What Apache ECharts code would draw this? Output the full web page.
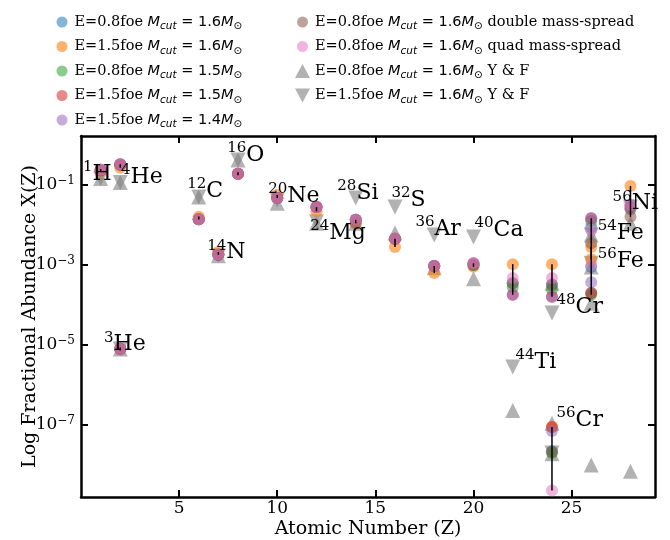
<!DOCTYPE html>
<html>
<head>
<meta charset="utf-8">
<script src="https://cdn.jsdelivr.net/npm/echarts@6/dist/echarts.min.js"></script>
<style>
  html, body { margin: 0; padding: 0; background: #fff; }
  #chart { width: 670px; height: 540px; }
</style>
</head>
<body>
<div id="chart"></div>
<script>
// Isotopes shown on the plot, with their atomic number
const isotopes     = ['1H', '3He', '4He', '12C', '14N', '16O', '20Ne', '24Mg', '28Si', '32S', '36Ar', '40Ca', '44Ti', '48Cr', '56Cr', '54Fe', '56Fe', '56Ni'];
const atomicNumber = [1, 2, 2, 6, 7, 8, 10, 12, 14, 16, 18, 20, 22, 24, 24, 26, 26, 28];

// Model yields (mass fraction), one value per isotope
const e08m16     = [0.23, 7.9e-6, 0.32, 0.014, 1.8e-3, 0.19, 0.047, 0.028, 0.0135, 4.5e-3, 9.4e-4, 1.0e-3, 3.5e-4, 3.2e-4, 2.2e-8, 8.9e-3, 8.9e-4, 0.032];
const e15m16     = [0.22, 7.9e-6, 0.27, 0.016, 2.1e-3, 0.19, 0.056, 0.022, 0.011, 2.8e-3, 6.3e-4, 9.0e-4, 1.05e-3, 1.05e-3, 8.9e-8, 1.4e-3, 2.8e-3, 0.095];
const e08m15     = [0.24, 7.9e-6, 0.32, 0.014, 1.8e-3, 0.19, 0.047, 0.028, 0.0135, 4.5e-3, 9.4e-4, 1.0e-3, 2.8e-4, 2.4e-4, 2.0e-8, 0.0126, 1.8e-4, 0.025];
const e15m15     = [0.24, 7.9e-6, 0.33, 0.014, 1.8e-3, 0.19, 0.047, 0.028, 0.0135, 4.5e-3, 9.4e-4, 1.1e-3, 1.8e-4, 1.6e-4, 8.9e-8, 0.0148, 2.0e-4, 0.028];
const e15m14     = [0.24, 7.9e-6, 0.33, 0.014, 1.8e-3, 0.19, 0.047, 0.028, 0.0135, 4.5e-3, 9.4e-4, 1.1e-3, 1.8e-4, 1.6e-4, 7.1e-8, 0.0148, 3.7e-4, 0.025];
const e08Double  = [0.23, 7.9e-6, 0.32, 0.014, 1.8e-3, 0.19, 0.047, 0.028, 0.011, 4.5e-3, 9.4e-4, 1.0e-3, 3.5e-4, 3.2e-4, 2.1e-8, 3.5e-3, 2.0e-4, 0.016];
const e08Quad    = [0.24, 7.9e-6, 0.33, 0.014, 1.8e-3, 0.19, 0.047, 0.028, 0.0135, 4.5e-3, 9.4e-4, 1.1e-3, 4.7e-4, 4.7e-4, 2.3e-9, 7.6e-3, 1.0e-3, 0.032];

// Y & F comparison yields, one value per isotope
const yfE08 = [0.145, 8e-6, 0.115, 0.05, 1.7e-3, 0.42, 0.035, 0.011, 0.011, 6.3e-3, 8.5e-4, 4.5e-4, 2.3e-7, 3.5e-4, 1.1e-7, 5.6e-3, 8.9e-4, 0.011];
const yfE15 = [0.145, 8e-6, 0.115, 0.05, 1.7e-3, 0.42, 0.042, 0.012, 0.047, 0.028, 5.6e-3, 5.0e-3, 2.8e-6, 6.3e-5, 2.0e-8, 5.6e-3, 1.1e-3, 0.028];
// further Y & F (E=0.8foe) points without a model counterpart
const yfE08ExtraZ     = [24, 26, 26, 28];
const yfE08ExtraValue = [1.9e-8, 1.1e-4, 1.0e-8, 7e-9];

// Isotope annotations: mass number, element, anchor (Z, abundance)
const labelMass    = ['1', '4', '3', '12', '14', '16', '20', '24', '28', '32', '36', '40', '44', '48', '56', '54', '56', '56'];
const labelElement = ['H', 'He', 'He', 'C', 'N', 'O', 'Ne', 'Mg', 'Si', 'S', 'Ar', 'Ca', 'Ti', 'Cr', 'Cr', 'Fe', 'Fe', 'Ni'];
const labelZ       = [0.1, 2.04, 1.17, 5.41, 6.43, 7.45, 9.54, 11.68, 13.06, 15.82, 17.04, 20.05, 22.14, 24.23, 24.23, 26.33, 26.33, 27.09];
const labelValue   = [0.19, 0.158, 1.05e-5, 0.071, 2.1e-3, 0.56, 0.053, 6.3e-3, 0.063, 0.042, 7.9e-3, 7.5e-3, 3.8e-6, 8.9e-5, 1.33e-7, 6.3e-3, 1.26e-3, 0.035];

// Axis ticks
const xTicks = [5, 10, 15, 20, 25];
const yTicks = [1e-7, 1e-5, 1e-3, 1e-1];

const SERIF = '"DejaVu Serif", serif';
const SANS = '"DejaVu Sans", sans-serif';

const modelSeries = [
  { name: 'e08m16',    values: e08m16,    color: 'rgba(31,119,180,0.55)',  legend: 'E=0.8foe {i|M}{sub|cut}{r| = 1.6}{i|M}{sun|⊙}' },
  { name: 'e15m16',    values: e15m16,    color: 'rgba(255,127,14,0.6)',   legend: 'E=1.5foe {i|M}{sub|cut}{r| = 1.6}{i|M}{sun|⊙}' },
  { name: 'e08m15',    values: e08m15,    color: 'rgba(44,160,44,0.55)',   legend: 'E=0.8foe {i|M}{sub|cut}{r| = 1.5}{i|M}{sun|⊙}' },
  { name: 'e15m15',    values: e15m15,    color: 'rgba(214,39,40,0.55)',   legend: 'E=1.5foe {i|M}{sub|cut}{r| = 1.5}{i|M}{sun|⊙}' },
  { name: 'e15m14',    values: e15m14,    color: 'rgba(148,103,189,0.55)', legend: 'E=1.5foe {i|M}{sub|cut}{r| = 1.4}{i|M}{sun|⊙}' },
  { name: 'e08Double', values: e08Double, color: 'rgba(140,86,75,0.55)',   legend: 'E=0.8foe {i|M}{sub|cut}{r| = 1.6}{i|M}{sun|⊙} double mass-spread' },
  { name: 'e08Quad',   values: e08Quad,   color: 'rgba(227,119,194,0.55)', legend: 'E=0.8foe {i|M}{sub|cut}{r| = 1.6}{i|M}{sun|⊙} quad mass-spread' }
];
const legendText = {};
modelSeries.forEach(s => { legendText[s.name] = s.legend; });
legendText.yfUp = 'E=0.8foe {i|M}{sub|cut}{r| = 1.6}{i|M}{sun|⊙} Y & F';
legendText.yfDown = 'E=1.5foe {i|M}{sub|cut}{r| = 1.6}{i|M}{sun|⊙} Y & F';

// spread of the model yields per isotope
const errorBars = atomicNumber.map((z, i) => {
  const v = modelSeries.map(s => s.values[i]);
  return [z, Math.min.apply(null, v), Math.max.apply(null, v)];
});

const GRAY = 'rgba(127,127,127,0.6)';

// legend icons: a small dot inside a larger invisible box, and the two triangles
const DOT_ICON  = 'path://M0,0M15,14M7.5,1.5A5.5,5.5,0,1,1,7.5,12.5A5.5,5.5,0,1,1,7.5,1.5Z';
const UP_ICON   = 'path://M7.5,0L15,14L0,14Z';
const DOWN_ICON = 'path://M0,0L15,0L7.5,14Z';

const legendRich = {
  i:   { fontFamily: SANS, fontStyle: 'italic', fontSize: 14.5, lineHeight: 20, color: '#000' },
  sub: { fontFamily: SANS, fontStyle: 'italic', fontSize: 10.5, lineHeight: 10, verticalAlign: 'bottom', color: '#000' },
  sun: { fontFamily: SANS, fontSize: 10.5, lineHeight: 10, verticalAlign: 'bottom', color: '#000' },
  r:   { fontFamily: SANS, fontSize: 14.5, lineHeight: 20, color: '#000' }
};
const legendBase = {
  orient: 'vertical',
  top: 7,
  itemGap: 4.5,
  itemTextGap: 11,
  itemWidth: 15,
  itemHeight: 14,
  selectedMode: false,
  formatter: name => legendText[name],
  textStyle: { fontFamily: SERIF, fontSize: 14.5, lineHeight: 20, color: '#000', rich: legendRich }
};

const frameLine = { show: true, onZero: false, lineStyle: { color: '#000', width: 2.5 } };
const tickStyle = { show: true, inside: true, length: 7, lineStyle: { color: '#000', width: 2 } };

const series = [];

series.push({
  name: 'yfUp', type: 'scatter', symbol: 'triangle', symbolSize: 15, z: 2,
  itemStyle: { color: GRAY, opacity: 1 },
  data: atomicNumber.map((z, i) => [z, yfE08[i]]).concat(yfE08ExtraZ.map((z, i) => [z, yfE08ExtraValue[i]]))
});
series.push({
  name: 'yfDown', type: 'scatter', symbol: 'triangle', symbolRotate: 180, symbolSize: 15, z: 2,
  itemStyle: { color: GRAY, opacity: 1 },
  data: atomicNumber.map((z, i) => [z, yfE15[i]])
});
modelSeries.forEach(s => {
  series.push({
    name: s.name, type: 'scatter', symbol: 'circle', symbolSize: 12, z: 3,
    itemStyle: { color: s.color, opacity: 1 },
    data: atomicNumber.map((z, i) => [z, s.values[i]])
  });
});
series.push({
  name: 'spread', type: 'custom', z: 4, silent: true,
  encode: { x: 0, y: [1, 2] },
  data: errorBars,
  renderItem: (params, api) => {
    const top = api.coord([api.value(0), api.value(2)]);
    const bot = api.coord([api.value(0), api.value(1)]);
    let y1 = top[1], y2 = bot[1];
    if (y2 - y1 < 3) { const m = (y1 + y2) / 2; y1 = m - 1.5; y2 = m + 1.5; }
    return { type: 'line', shape: { x1: top[0], y1: y1, x2: top[0], y2: y2 }, style: { stroke: '#000', lineWidth: 1.5 } };
  }
});
series.push({
  name: 'isotopeLabels', type: 'scatter', symbolSize: 0, z: 5, silent: true,
  itemStyle: { opacity: 1 },
  data: labelZ.map((z, i) => ({ value: [z, labelValue[i]], mass: labelMass[i], el: labelElement[i] })),
  label: {
    show: true, position: [0, 0], align: 'left', verticalAlign: 'middle',
    color: '#000', opacity: 1, textBorderWidth: 0,
    formatter: p => '{m|' + p.data.mass + '}{e|' + p.data.el + '}',
    rich: {
      m: { fontFamily: SERIF, fontSize: 15, lineHeight: 15, verticalAlign: 'top', color: '#000' },
      e: { fontFamily: SERIF, fontSize: 22, lineHeight: 28, color: '#000' }
    }
  }
});

const chart = echarts.init(document.getElementById('chart'), null, { renderer: 'canvas' });
chart.setOption({
  backgroundColor: '#fff',
  animation: false,
  legend: [
    Object.assign({}, legendBase, { left: 49.5, data: ['e08m16', 'e15m16', 'e08m15', 'e15m15', 'e15m14'].map(n => ({ name: n, icon: DOT_ICON })) }),
    Object.assign({}, legendBase, { left: 290, data: [
      { name: 'e08Double', icon: DOT_ICON },
      { name: 'e08Quad', icon: DOT_ICON },
      { name: 'yfUp', icon: UP_ICON },
      { name: 'yfDown', icon: DOWN_ICON }
    ] })
  ],
  grid: { left: 81, right: 15, top: 136, bottom: 43, containLabel: false, outerBoundsMode: 'none' },
  xAxis: [{
    type: 'value', min: 0, max: 29.25, position: 'bottom',
    axisLine: frameLine,
    axisTick: Object.assign({ customValues: xTicks }, tickStyle),
    splitLine: { show: false },
    axisLabel: { customValues: xTicks, fontFamily: SERIF, fontSize: 17, color: '#000', margin: 3 },
    name: 'Atomic Number (Z)', nameLocation: 'middle', nameGap: 23, nameMoveOverlap: false,
    nameTextStyle: { fontFamily: SERIF, fontSize: 19, color: '#000' }
  }, {
    type: 'value', min: 0, max: 29.25, position: 'top',
    axisLine: frameLine,
    axisTick: Object.assign({ customValues: xTicks }, tickStyle),
    splitLine: { show: false },
    axisLabel: { show: false }
  }],
  yAxis: [{
    type: 'log', logBase: 10, min: Math.pow(10, -8.8), max: Math.pow(10, 0.225), position: 'left',
    axisLine: frameLine,
    axisTick: Object.assign({ customValues: yTicks }, tickStyle),
    minorTick: { show: false },
    splitLine: { show: false },
    axisLabel: {
      customValues: yTicks, margin: 6, color: '#000',
      formatter: v => '{b|10}{s|−' + Math.round(-Math.log10(v)) + '}',
      rich: {
        b: { fontFamily: SERIF, fontSize: 17, lineHeight: 20, color: '#000' },
        s: { fontFamily: SERIF, fontSize: 12, lineHeight: 12, verticalAlign: 'top', color: '#000' }
      }
    },
    name: 'Log Fractional Abundance X(Z)', nameLocation: 'middle', nameGap: 41, nameMoveOverlap: false,
    nameTextStyle: { fontFamily: SERIF, fontSize: 19, color: '#000' }
  }, {
    type: 'log', logBase: 10, min: Math.pow(10, -8.8), max: Math.pow(10, 0.225), position: 'right',
    axisLine: frameLine,
    axisTick: Object.assign({ customValues: yTicks }, tickStyle),
    minorTick: { show: false },
    splitLine: { show: false },
    axisLabel: { show: false }
  }],
  series: series
});
</script>
</body>
</html>
